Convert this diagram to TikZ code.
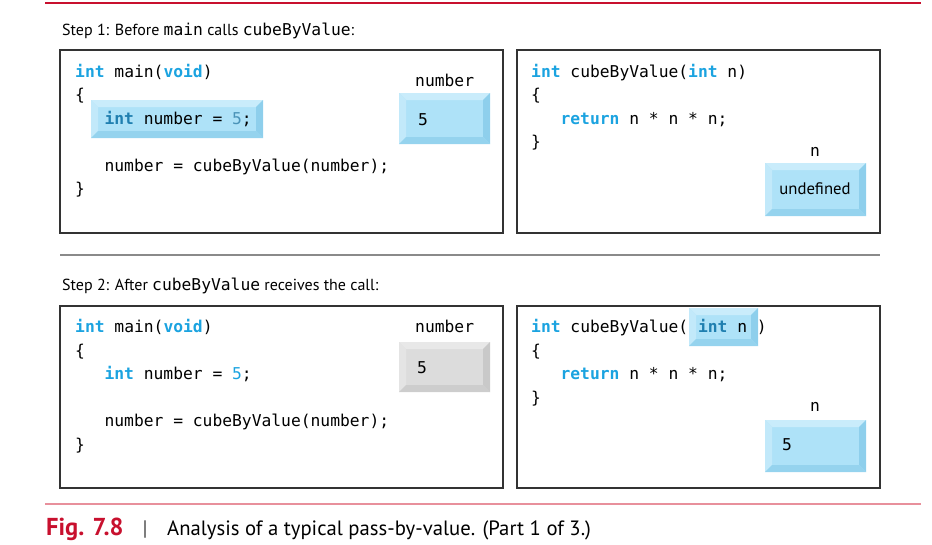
\documentclass[tikz,border=0pt]{standalone}
\usepackage{fontspec}
\setmainfont{PT Sans}
\newfontfamily\codefont{DejaVu Sans Mono}
\definecolor{kwc}{HTML}{1BA3E0}
\definecolor{kwdark}{HTML}{1F7FB0}
\definecolor{numdark}{HTML}{4A93B8}
\definecolor{bface}{HTML}{AEE2F8}
\definecolor{btop}{HTML}{C9ECFB}
\definecolor{bleft}{HTML}{C2E9FA}
\definecolor{bright}{HTML}{8ECFEC}
\definecolor{bbot}{HTML}{95D3EE}
\definecolor{gface}{HTML}{DCDCDC}
\definecolor{gtop}{HTML}{E8E8E8}
\definecolor{gleft}{HTML}{E4E4E4}
\definecolor{gright}{HTML}{C9C9C9}
\definecolor{gbot}{HTML}{CDCDCD}
\definecolor{figred}{HTML}{C8102E}
\definecolor{figpink}{HTML}{E8909C}
\definecolor{frame}{HTML}{333333}
\definecolor{sepgray}{HTML}{8A8A8A}
\newcommand{\kw}[1]{\textcolor{kwc}{\bfseries #1}}
\newcommand{\kwd}[1]{\textcolor{kwdark}{\bfseries #1}}
\newcommand{\cf}{\codefont\fontsize{16.3}{20}\selectfont}
\newcommand{\bevelbox}[5]{%
  \fill[#5face] (#1,#2) rectangle (#3,#4);
  \fill[#5top] (#1,#2) -- (#3,#2) -- (#3-7,#2+7) -- (#1+7,#2+7) -- cycle;
  \fill[#5left] (#1,#2) -- (#1+7,#2+7) -- (#1+7,#4-7) -- (#1,#4) -- cycle;
  \fill[#5right] (#3,#2) -- (#3,#4) -- (#3-7,#4-7) -- (#3-7,#2+7) -- cycle;
  \fill[#5bot] (#1,#4) -- (#3,#4) -- (#3-7,#4-7) -- (#1+7,#4-7) -- cycle;
}
\tikzset{
  code/.style={font=\cf, anchor=base west, inner sep=0pt},
  lab/.style={font=\fontsize{16}{19}\selectfont, anchor=base west, inner sep=0pt},
  panel/.style={draw=frame, line width=1.5pt},
}
\begin{document}
\begin{tikzpicture}[x=1pt,y=-1pt]
\useasboundingbox (0,0) rectangle (932,544);
% rules
\draw[figred, line width=1.3pt] (45,3) -- (921,3);
\draw[sepgray, line width=1.4pt] (60,255) -- (880,255);
\draw[figpink, line width=1.3pt] (45,504) -- (921,504);

% ---------- Step 1 ----------
\node[lab] (s1) at (62,35) {Step 1: Before {\cf main} calls {\cf cubeByValue}:};
\draw[panel] (60,50) rectangle (503,233);
\draw[panel] (517,50) rectangle (880,233);

\bevelbox{91}{100}{263}{138}{b}
\bevelbox{399}{93}{490}{144}{b}
\node[code] (a1) at (75,77) {\kw{int} main(\kw{void})};
\node[code] (a2) at (75,100.5) {\{};
\node[code] (a3) at (104.4,124) {\kwd{int} number = \textcolor{numdark}{5};};
\node[code] (a4) at (104.4,171) {number = cubeByValue(number);};
\node[code] (a5) at (75,194.5) {\}};
\node[code] (lnum1) at (415,86) {number};
\node[code] (v1) at (418,125.3) {5};

\bevelbox{765}{163}{866}{216}{b}
\node[code] (b1) at (531,77) {\kw{int} cubeByValue(\kw{int} n)};
\node[code] (b2) at (531,100.5) {\{};
\node[code] (b3) at (560.4,124) {\kw{return} n * n * n;};
\node[code] (b4) at (531,147.5) {\}};
\node[code, anchor=base] (ln1) at (815,156) {n};
\node[lab, anchor=base, font=\fontsize{16.7}{19}\selectfont] (u1) at (815,194) {undefined};

% ---------- Step 2 ----------
\node[lab] (s2) at (62,290) {Step 2: After {\cf cubeByValue} receives the call:};
\draw[panel] (60,306) rectangle (503,488);
\draw[panel] (517,306) rectangle (880,488);

\bevelbox{399}{342}{490}{392}{g}
\node[code] (c1) at (75,332.5) {\kw{int} main(\kw{void})};
\node[code] (c2) at (75,356) {\{};
\node[code] (c3) at (104.4,379.5) {\kw{int} number = \textcolor{kwc}{5};};
\node[code] (c4) at (104.4,426.5) {number = cubeByValue(number);};
\node[code] (c5) at (75,450) {\}};
\node[code] (lnum2) at (415,332.5) {number};
\node[code] (v2) at (417,373.3) {5};

\bevelbox{689}{308}{758}{346}{b}
\bevelbox{765}{420}{866}{472}{b}
\node[code] (d1) at (531,332.5) {\kw{int} cubeByValue( \kwd{int} n )};
\node[code] (d2) at (531,356) {\{};
\node[code] (d3) at (560.4,379.5) {\kw{return} n * n * n;};
\node[code] (d4) at (531,403) {\}};
\node[code, anchor=base] (ln2) at (815,411.7) {n};
\node[code] (v3) at (782,450) {5};

% ---------- caption ----------
\node[anchor=base west, inner sep=0pt, font=\fontsize{24.5}{28}\selectfont\bfseries, text=figred] (fig) at (46,535.7) {Fig. 7.8};
\node[anchor=base, inner sep=0pt, font=\fontsize{21}{26}\selectfont, text=black!70] (bar) at (145,535.7) {|};
\node[anchor=base west, inner sep=0pt, font=\fontsize{20.7}{26}\selectfont] (cap) at (167,535.7) {Analysis of a typical pass-by-value. (Part 1 of 3.)};
\end{tikzpicture}
\end{document}
